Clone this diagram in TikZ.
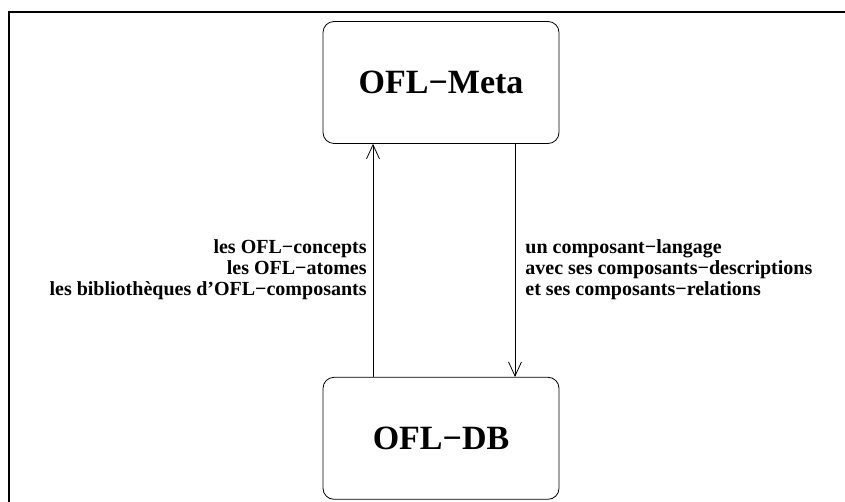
\documentclass[tikz,border=0pt]{standalone}
\usepackage{fontspec}
\setmainfont{Liberation Serif}
\usetikzlibrary{positioning, arrows.meta}

\begin{document}
\begin{tikzpicture}[x=1pt, y=1pt, line width=0.8pt,
  bloc/.style={draw, rounded corners=11pt, minimum width=236pt, minimum height=122pt, font=\fontsize{34}{40}\selectfont\bfseries},
  etiq/.style={inner sep=0pt, font=\fontsize{20}{20.7}\selectfont\bfseries},
  >={Straight Barb[length=14pt, width=13pt]}]
\useasboundingbox (0,0) rectangle (845,-502);
\draw[line width=2pt] (9,-502) -- (9,-12) -- (845,-12);

\node[bloc] (meta) at (441,-82.5) {OFL−Meta};
\node[bloc, below=233pt of meta] (db) {OFL−DB};

\draw[->] ([xshift=-68pt]db.north) -- node[pos=0.46, left=6pt, etiq, align=right] {les OFL−concepts\\les OFL−atomes\\les bibliothèques d’OFL−composants} ([xshift=-68pt]meta.south);
\draw[->] ([xshift=74pt]meta.south) -- node[pos=0.54, right=10pt, etiq, align=left] {un composant−langage\\avec ses composants−descriptions\\et ses composants−relations} ([xshift=74pt]db.north);

\end{tikzpicture}
\end{document}
